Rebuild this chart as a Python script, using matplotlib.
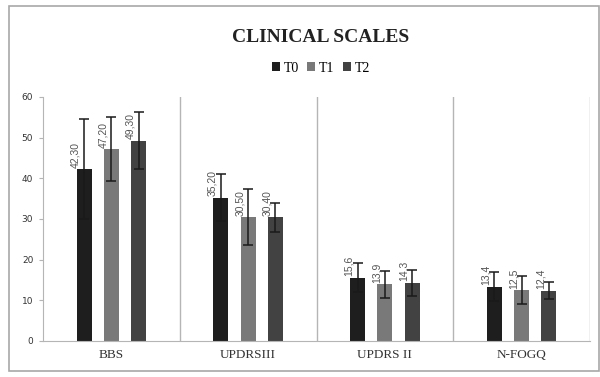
import numpy as np
import matplotlib.pyplot as plt
from matplotlib.patches import Rectangle

# data
categories = ['BBS', 'UPDRSIII', 'UPDRS II', 'N-FOGQ']
series = ['T0', 'T1', 'T2']
t0 = [42.3, 35.2, 15.6, 13.4]
t1 = [47.2, 30.5, 13.9, 12.5]
t2 = [49.3, 30.4, 14.3, 12.4]
t0_err = [12.3, 5.8, 3.6, 3.6]
t1_err = [7.9, 6.8, 3.3, 3.4]
t2_err = [6.9, 3.5, 3.2, 2.1]
t0_lab = ['42,30', '35,20', '15,6', '13,4']
t1_lab = ['47,20', '30,50', '13,9', '12,5']
t2_lab = ['49,30', '30,40', '14,3', '12,4']

colors = ['#1e1e1e', '#797979', '#424242']
grid_col = '#b5b5b5'

fig = plt.figure(figsize=(6, 3.77), dpi=100)
# outer chart border
fig.patches.append(Rectangle((9 / 600, 6 / 377), 590 / 600, 365 / 377,
                             transform=fig.transFigure, fill=False,
                             edgecolor='#a8a8a8', linewidth=1.2))

ax = fig.add_axes([43 / 600, 36 / 377, 547 / 600, 244 / 377])

x = np.arange(len(categories))
width = 0.11
offsets = [-0.2, 0.0, 0.2]
vals = [t0, t1, t2]
errs = [t0_err, t1_err, t2_err]
labs = [t0_lab, t1_lab, t2_lab]

for i in range(3):
    xs = x + offsets[i]
    ax.bar(xs, vals[i], width, color=colors[i], label=series[i], zorder=2)
    ax.errorbar(xs, vals[i], yerr=errs[i], fmt='none', ecolor='#1a1a1a',
                elinewidth=1.1, capsize=3.5, capthick=1.1, zorder=3)
    for xi, v, t in zip(xs, vals[i], labs[i]):
        ax.annotate(t, (xi, v), xytext=(-6, 1), textcoords='offset points',
                    rotation=90, ha='center', va='bottom', fontsize=7.5,
                    color='#555555', family='Liberation Sans')

ax.set_xlim(-0.5, len(categories) - 0.5)
ax.set_ylim(0, 60)
ax.set_yticks(range(0, 61, 10))
ax.tick_params(axis='y', labelsize=6.5, colors='#333333', length=3,
               color=grid_col, pad=4)
ax.tick_params(axis='x', length=0, pad=6)
ax.set_xticks(x)
ax.set_xticklabels(categories, family='Liberation Serif', fontsize=9.5,
                   color='#333333')

for s in ['top', 'right']:
    ax.spines[s].set_visible(False)
ax.spines['left'].set_color(grid_col)
ax.spines['bottom'].set_color(grid_col)
# category separators
for b in np.arange(0.5, len(categories), 1.0):
    ax.axvline(b, color=grid_col, linewidth=1, zorder=1)

fig.text(321 / 600, 1 - 37 / 377, 'CLINICAL SCALES', ha='center', va='center',
         family='Liberation Serif', fontweight='bold', fontsize=14,
         color='#222222')

leg = ax.legend(loc='center', bbox_to_anchor=(321 / 600, 1 - 68 / 377),
                bbox_transform=fig.transFigure, ncol=3, frameon=False,
                handlelength=0.55, handleheight=0.55, handletextpad=0.3,
                columnspacing=0.6, prop={'family': 'Liberation Serif', 'size': 10})

fig.savefig('out.png', dpi=100)
